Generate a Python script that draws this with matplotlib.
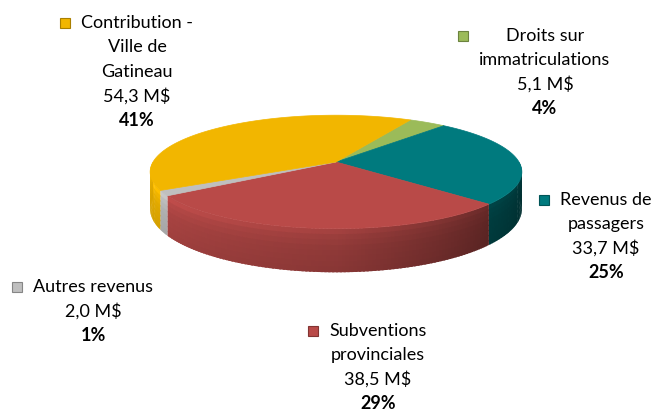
import numpy as np
import matplotlib.pyplot as plt
from matplotlib.collections import PolyCollection
from matplotlib.patches import Polygon, Rectangle
from matplotlib.colors import to_rgb

# slices in drawing order, clockwise from the top
labels = ['Droits sur\nimmatriculations', 'Revenus de\npassagers',
          'Subventions\nprovinciales', 'Autres revenus',
          'Contribution -\nVille de\nGatineau']
values = [5.1, 33.7, 38.5, 2.0, 54.3]
colors = ['#9BBB59', '#007A7E', '#B94A48', '#BFBFBF', '#F2B600']

# label anchors (centre x, first line y) in pixels
label_pos = [(545, 36), (606, 200), (378, 331), (93, 287), (137, 23)]

plt.rcParams['font.family'] = ['Lato', 'DejaVu Sans']

fig = plt.figure(figsize=(6.58, 4.11), dpi=100)
ax = fig.add_axes([0, 0, 1, 1])
ax.set_xlim(0, 658)
ax.set_ylim(411, 0)
ax.axis('off')

# pie geometry (pixels), with a bit of perspective
cx, cy, rx, ry, depth, persp = 336, 162, 183, 55, 36, 0.175
start = 62


def rim(t, z=0.0):
    r = np.radians(t)
    s = 1 / (1 + persp * np.sin(r))
    return cx + s * rx * np.cos(r), cy + s * (-ry * np.sin(r) + z)


total = sum(values)
bounds = start - 360 * np.concatenate([[0], np.cumsum(values)]) / total

# side walls, drawn as thin overlapping strips for the shading
polys, fcols = [], []
zs = np.linspace(0, 1, 9)
bands = [(z1, min(z2 + 0.03, 1), np.interp((z1 + z2) / 2, [0, 0.15, 0.45, 1], [1.14, 1.05, 0.97, 0.92]))
         for z1, z2 in zip(zs[:-1], zs[1:])]
for i, v in enumerate(values):
    a, b = bounds[i], bounds[i + 1]
    hi, lo = min(a, 0), max(b, -180)
    if hi <= lo:
        continue
    ts = np.linspace(hi, lo, max(int((hi - lo) / 1.0) + 2, 2))
    base = np.array(to_rgb(colors[i]))
    for t1, t2 in zip(ts[:-1], ts[1:]):
        tm = (t1 + t2) / 2
        t2e = max(t2 - 0.6, lo)
        f = np.interp(tm, [-180, -150, -90, -40, 0], [0.97, 0.95, 0.8, 0.5, 0.35])
        for z1, z2, m in bands:
            p = [rim(t1, z1 * depth), rim(t2e, z1 * depth),
                 rim(t2e, z2 * depth), rim(t1, z2 * depth)]
            polys.append(p)
            fcols.append(np.clip(base * f * m, 0, 1))
ax.add_collection(PolyCollection(polys, facecolors=fcols, edgecolors='none'))

# top faces
for i, v in enumerate(values):
    ts = np.linspace(bounds[i], bounds[i + 1], 120)
    pts = [(cx, cy)] + [rim(t) for t in ts]
    ax.add_patch(Polygon(pts, closed=True, facecolor=colors[i], edgecolor=colors[i], linewidth=0.5))

# labels
fig.canvas.draw()
rend = fig.canvas.get_renderer()
inv = ax.transData.inverted()
for i, v in enumerate(values):
    pct = round(v / total * 100)
    lines = labels[i].split('\n') + [f'{v:.1f}'.replace('.', ',') + ' M$', f'{pct}%']
    x0, y0 = label_pos[i]
    left = 1e9
    for j, line in enumerate(lines):
        t = ax.text(x0, y0 + j * 24.3, line, ha='center', va='center', fontsize=13,
                    fontweight='bold' if j == len(lines) - 1 else 'normal', color='black')
        bb = t.get_window_extent(renderer=rend)
        left = min(left, inv.transform((bb.x0, bb.y0))[0])
    ax.add_patch(Rectangle((left - 21, y0 - 5), 10, 10, facecolor=colors[i],
                           edgecolor=np.array(to_rgb(colors[i])) * 0.7, linewidth=0.8))

fig.savefig('out.png', dpi=100)
